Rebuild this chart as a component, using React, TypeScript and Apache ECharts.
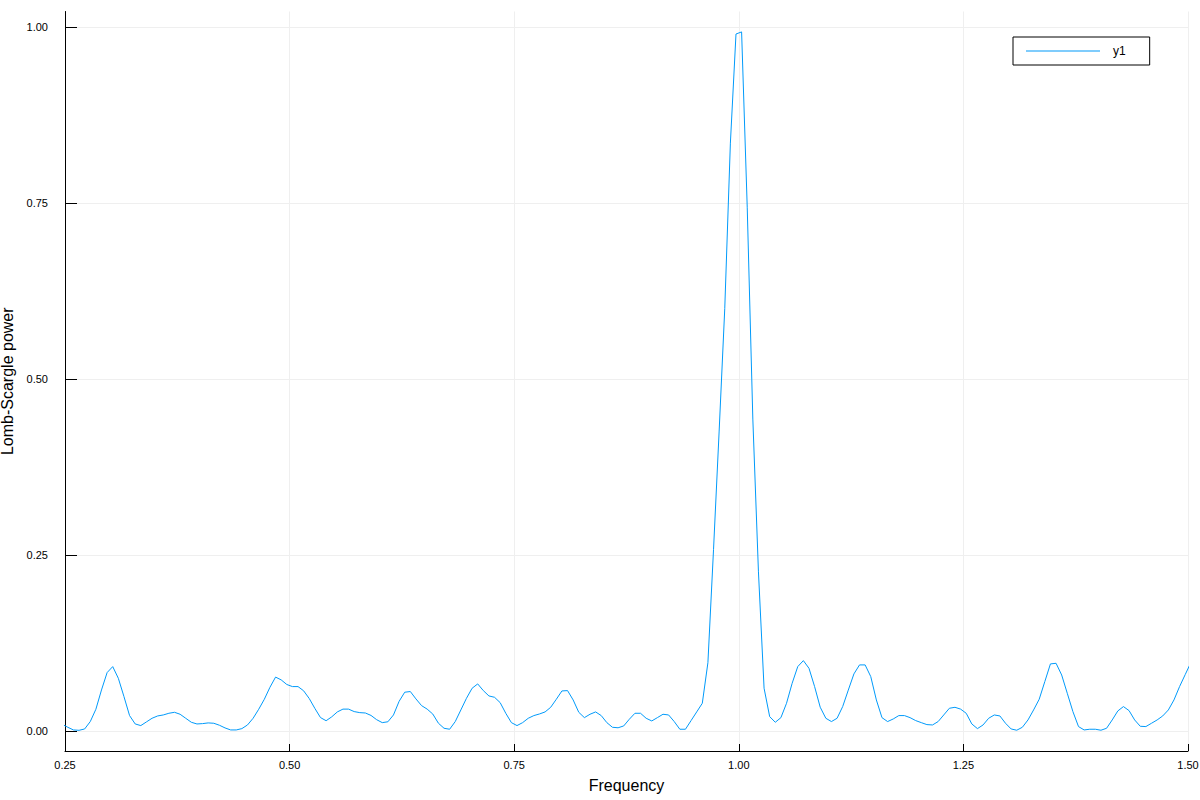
import React, { useEffect, useRef } from "react";
import * as echarts from "echarts";

const FREQ_START = 0.246875;
const FREQ_STEP = 0.00625;

// Lomb-Scargle power at each grid frequency
const POWER_LOW_A = [
  0.0095, 0.0052, 0.0014, 0.0009, 0.0028, 0.0133, 0.0308, 0.0582, 0.0829, 0.0914,
  0.0748, 0.0488, 0.0218, 0.0099, 0.0076, 0.0128, 0.018, 0.0213, 0.0227, 0.0251,
  0.0265, 0.0237, 0.018, 0.0123, 0.0099, 0.0104, 0.0114, 0.0109, 0.0081, 0.0043,
  0.0014, 0.0014, 0.0033, 0.0085, 0.018, 0.0308, 0.045, 0.062, 0.0765, 0.0725,
  0.066, 0.063, 0.063, 0.057, 0.046, 0.032, 0.019, 0.0145, 0.02, 0.027,
  0.031, 0.031, 0.0275, 0.026, 0.0255, 0.022, 0.016, 0.0118, 0.013, 0.0227,
  0.042, 0.055, 0.056, 0.0455, 0.036, 0.031, 0.024, 0.011, 0.0038, 0.0024,
];
const POWER_LOW_B = [
  0.0133, 0.0298, 0.0464, 0.0606, 0.0668, 0.0573, 0.0497, 0.0478, 0.0402, 0.0251, 0.0118, 0.0076,
  0.0118, 0.018, 0.0218, 0.0241, 0.027, 0.0336, 0.045, 0.0568, 0.0573, 0.044,
  0.0265, 0.0189, 0.0237, 0.027, 0.0218, 0.0118, 0.0052, 0.0045, 0.0071, 0.0166,
  0.0251, 0.0251, 0.018, 0.0142, 0.0189, 0.0237, 0.0227, 0.0133, 0.0024, 0.0024,
  0.0147, 0.027, 0.0393,
];
const POWER_PEAK = [0.097, 0.258, 0.426, 0.6, 0.835, 0.99, 0.993, 0.744, 0.443, 0.226];
const POWER_HIGH = [
  0.0607, 0.0203, 0.0123, 0.0189, 0.0393, 0.0677, 0.0914,
  0.0999, 0.089, 0.063, 0.0337, 0.018, 0.0133, 0.018, 0.0346, 0.058, 0.081,
  0.0938, 0.0938, 0.0772, 0.044, 0.0189, 0.0133, 0.017, 0.0218, 0.0218, 0.0189,
  0.0147, 0.0118, 0.009, 0.0085, 0.0133, 0.0227, 0.0322, 0.0336, 0.031, 0.0251,
  0.0099, 0.0033, 0.0085, 0.018, 0.0227, 0.0213, 0.0109, 0.0028, 0.001, 0.0052,
  0.0156, 0.0298, 0.045, 0.0701, 0.0952, 0.0961, 0.0795, 0.0535, 0.0275, 0.0062,
  0.0014, 0.0024, 0.0024, 0.001, 0.0038, 0.0156, 0.0284, 0.0346, 0.0289, 0.0156,
  0.0066, 0.0062, 0.0109, 0.0156, 0.0213, 0.0298, 0.044, 0.063, 0.08, 0.097,
];
const POWER = [...POWER_LOW_A, ...POWER_LOW_B, ...POWER_PEAK, ...POWER_HIGH];

const X_TICKS = [0.25, 0.5, 0.75, 1.0, 1.25, 1.5];
const Y_TICKS = [0, 0.25, 0.5, 0.75, 1.0];
const SERIES_NAME = "y1";

const FONT = '"Liberation Sans", Arial, sans-serif';
const LINE_COLOR = "#009AFA";
const GRID_COLOR = "#efefef";

export default function App() {
  const ref = useRef<HTMLDivElement>(null);
  useEffect(() => {
    if (!ref.current) return;
    const chart = echarts.init(ref.current, undefined, { renderer: "svg" });
    const data = POWER.map((p, i) => [FREQ_START + i * FREQ_STEP, p]);
    chart.setOption({
      animation: false,
      backgroundColor: "#ffffff",
      grid: {
        left: 65,
        right: 12,
        top: 11.5,
        bottom: 49,
        containLabel: false,
        outerBoundsMode: "none",
      },
      legend: {
        left: 1013,
        top: 37,
        padding: [7, 24, 7, 13],
        itemWidth: 74,
        itemHeight: 1,
        borderColor: "#000",
        borderWidth: 1,
        backgroundColor: "#fff",
        textStyle: {
          fontFamily: FONT,
          fontSize: 12,
          color: "#000",
          lineHeight: 14,
          padding: [0, 0, 0, 8],
        },
        data: [{ name: SERIES_NAME, icon: "rect", itemStyle: { color: LINE_COLOR } }],
      },
      xAxis: {
        type: "value",
        min: 0.25,
        max: 1.5,
        interval: 0.25,
        name: "Frequency",
        nameLocation: "middle",
        nameGap: 26,
        nameTextStyle: { fontFamily: FONT, fontSize: 16, color: "#000" },
        axisLine: { show: true, onZero: false, lineStyle: { color: "#000", width: 1 } },
        axisTick: { show: true, inside: true, length: 7, lineStyle: { color: "#000" } },
        axisLabel: {
          margin: 8,
          fontFamily: FONT,
          fontSize: 11,
          color: "#000",
          formatter: (v: number) => v.toFixed(2),
          customValues: X_TICKS,
        },
        splitLine: { show: true, lineStyle: { color: GRID_COLOR, width: 1 } },
      },
      yAxis: {
        type: "value",
        min: -0.0285,
        max: 1.022,
        name: "Lomb-Scargle power",
        nameLocation: "middle",
        nameGap: 40,
        nameRotate: 90,
        nameTextStyle: { fontFamily: FONT, fontSize: 16, color: "#000" },
        axisLine: { show: true, onZero: false, lineStyle: { color: "#000", width: 1 } },
        axisTick: { show: true, inside: true, length: 12, lineStyle: { color: "#000" }, customValues: Y_TICKS },
        axisLabel: {
          margin: 17,
          fontFamily: FONT,
          fontSize: 11,
          color: "#000",
          formatter: (v: number) => v.toFixed(2),
          customValues: Y_TICKS,
        },
        splitLine: { show: true, lineStyle: { color: GRID_COLOR, width: 1 } },
      },
      series: [
        {
          name: SERIES_NAME,
          type: "line",
          data,
          symbol: "none",
          showSymbol: false,
          clip: true,
          lineStyle: { color: LINE_COLOR, width: 1 },
          itemStyle: { color: LINE_COLOR },
        },
      ],
    });
    return () => chart.dispose();
  }, []);
  return (
    <div
      ref={ref}
      style={{ position: "fixed", left: 0, top: 0, width: 1200, height: 800, background: "#fff" }}
    />
  );
}
